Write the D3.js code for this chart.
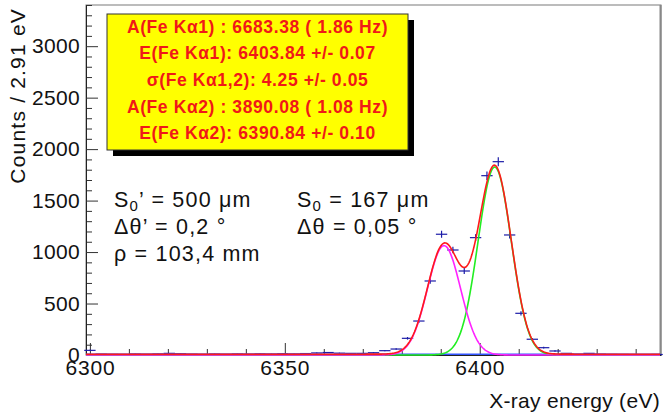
<!DOCTYPE html>
<html>
<head>
<meta charset="utf-8">
<script src="https://cdn.jsdelivr.net/npm/d3@7"></script>
<style>
  html, body { margin: 0; padding: 0; background: #fff; }
  svg { display: block; font-family: "Liberation Sans", Arial, Helvetica, sans-serif; }
</style>
</head>
<body>
<svg id="chart" width="663" height="417"></svg>
<script>
// Histogram binning (bin centres start at 6300 eV, width 2.91 eV)
const binStart = 6300;
const binWidth = 2.91;
// Counts per bin
const counts = [
  45, 8, 6, 5, 9, 7, 10, 16, 12, 8,
  6, 9, 7, 10, 8, 11, 9, 12, 10, 14,
  20, 24, 18, 16, 16, 22, 42, 58, 162, 330,
  719, 1173, 1020, 816, 1140, 1742, 1878, 1166, 405, 153,
  71, 39, 16, 8, 16, 8, 6, 5, 4, 3,
  5
];

// Fit results
const fitLabels = [
  "A(Fe K\u03b11) : 6683.38 ( 1.86 Hz)",
  "E(Fe K\u03b11): 6403.84 +/- 0.07",
  "\u03c3(Fe K\u03b11,2): 4.25 +/- 0.05",
  "A(Fe K\u03b12) : 3890.08 ( 1.08 Hz)",
  "E(Fe K\u03b12): 6390.84 +/- 0.10"
];
const amp1 = 6683.38, mean1 = 6403.84;
const amp2 = 3890.08, mean2 = 6390.84;
const sigma = 4.25;
const background = 8;

// Axis ticks
const yMajorTicks = [0, 500, 1000, 1500, 2000, 2500, 3000];
const xMajorTicks = [6300, 6350, 6400];

const svg = d3.select("#chart");
const x = d3.scaleLinear().domain([6299, 6446.5]).range([86, 661]);
const y = d3.scaleLinear().domain([0, 3400]).range([355, 5]);

const plot = { left: 86, right: 661, top: 5, bottom: 355 };

// Frame
svg.append("rect")
  .attr("x", plot.left).attr("y", plot.top)
  .attr("width", plot.right - plot.left).attr("height", plot.bottom - plot.top)
  .attr("fill", "#fff").attr("stroke", "#7a7a7a").attr("stroke-width", 1);
svg.append("line")
  .attr("x1", plot.right - 0.5).attr("x2", plot.right - 0.5)
  .attr("y1", plot.top).attr("y2", plot.bottom)
  .attr("stroke", "#888").attr("stroke-width", 2);

// Axes (ticks point into the frame)
const yMinor = d3.range(0, 3401, 100).filter(v => v % 500 !== 0);
const xMinor = d3.range(6300, 6447, 10).filter(v => v % 50 !== 0);

svg.append("g")
  .attr("transform", `translate(${plot.left},0)`)
  .call(d3.axisLeft(y).tickValues(yMinor).tickFormat("").tickSizeInner(-6).tickSizeOuter(0))
  .call(g => g.select(".domain").remove())
  .call(g => g.selectAll("line").attr("stroke", "#333"));

const yAxis = svg.append("g")
  .attr("transform", `translate(${plot.left},0)`)
  .call(d3.axisLeft(y).tickValues(yMajorTicks).tickFormat(d3.format("d"))
    .tickSizeInner(-12).tickSizeOuter(0).tickPadding(6));
yAxis.select(".domain").attr("stroke", "#222");
yAxis.selectAll("line").attr("stroke", "#333");
yAxis.selectAll("text").attr("font-size", 21).attr("fill", "#111")
  .attr("letter-spacing", 0.3)
  .attr("font-family", "Liberation Sans, Arial, sans-serif");

svg.append("g")
  .attr("transform", `translate(0,${plot.bottom})`)
  .call(d3.axisBottom(x).tickValues(xMinor).tickFormat("").tickSizeInner(-6).tickSizeOuter(0))
  .call(g => g.select(".domain").remove())
  .call(g => g.selectAll("line").attr("stroke", "#333"));

const xAxis = svg.append("g")
  .attr("transform", `translate(0,${plot.bottom})`)
  .call(d3.axisBottom(x).tickValues(xMajorTicks).tickFormat(d3.format("d"))
    .tickSizeInner(-12).tickSizeOuter(0).tickPadding(5));
xAxis.select(".domain").attr("stroke", "#222");
xAxis.selectAll("line").attr("stroke", "#333");
xAxis.selectAll("text").attr("font-size", 21).attr("fill", "#111")
  .attr("letter-spacing", 0.8)
  .attr("font-family", "Liberation Sans, Arial, sans-serif");

// Axis titles
svg.append("text")
  .attr("transform", "translate(25,8) rotate(-90)")
  .attr("text-anchor", "end")
  .attr("font-size", 21).attr("letter-spacing", 1.2).attr("fill", "#111")
  .text("Counts / 2.91 eV");
svg.append("text")
  .attr("x", 660).attr("y", 408)
  .attr("text-anchor", "end")
  .attr("font-size", 21).attr("letter-spacing", 0.3).attr("fill", "#111")
  .text("X-ray energy (eV)");

// Data points with error bars
const bins = counts.map((c, i) => ({ e: binStart + binWidth * i, c }));
const pts = svg.append("g").attr("stroke", "#1c1ca8").attr("stroke-width", 1.2);
bins.filter(d => d.c > 0).forEach(d => {
  const err = Math.sqrt(d.c);
  pts.append("line")
    .attr("x1", x(d.e - binWidth / 2)).attr("x2", x(d.e + binWidth / 2))
    .attr("y1", y(d.c)).attr("y2", y(d.c));
  pts.append("line")
    .attr("x1", x(d.e)).attr("x2", x(d.e))
    .attr("y1", y(Math.max(0, d.c - err))).attr("y2", y(d.c + err));
});

// Fit model: two Gaussian lines plus flat background
const norm = binWidth / (sigma * Math.sqrt(2 * Math.PI));
const gauss = (e, a, m) => a * norm * Math.exp(-((e - m) ** 2) / (2 * sigma * sigma));
const grid = d3.range(6299, 6446.5, 0.25);
const line = d3.line().x(d => x(d[0])).y(d => y(d[1]));

const curves = svg.append("g").attr("fill", "none").attr("stroke-width", 1.6);
curves.append("path")
  .datum(grid.map(e => [e, background]))
  .attr("stroke", "#3355ff").attr("d", line);
curves.append("path")
  .datum(grid.map(e => [e, gauss(e, amp1, mean1)]))
  .attr("stroke", "#22ee22").attr("d", line);
curves.append("path")
  .datum(grid.map(e => [e, gauss(e, amp2, mean2)]))
  .attr("stroke", "#ff22ff").attr("d", line);
curves.append("path")
  .datum(grid.map(e => [e, gauss(e, amp1, mean1) + gauss(e, amp2, mean2) + background]))
  .attr("stroke", "#ff1a1a").attr("d", line);

// Fit results box
const box = { x: 107, y: 14, w: 301, h: 136 };
svg.append("rect")
  .attr("x", box.x + 6).attr("y", box.y + 6)
  .attr("width", box.w).attr("height", box.h)
  .attr("fill", "#000");
svg.append("rect")
  .attr("x", box.x).attr("y", box.y)
  .attr("width", box.w).attr("height", box.h)
  .attr("fill", "#ffff00").attr("stroke", "#333").attr("stroke-width", 1);
svg.append("g")
  .selectAll("text")
  .data(fitLabels)
  .join("text")
  .attr("x", box.x + box.w / 2)
  .attr("y", (d, i) => 32.8 + i * 26.6)
  .attr("text-anchor", "middle")
  .attr("font-size", 17.5).attr("font-weight", "bold")
  .attr("letter-spacing", 0.6)
  .attr("fill", "#f01818")
  .text(d => d);

// Spectrometer settings
function addSetting(xPos, yPos, parts) {
  const t = svg.append("text")
    .attr("x", xPos).attr("y", yPos)
    .attr("font-size", 21.5).attr("letter-spacing", 1.2).attr("fill", "#111");
  parts.forEach(p => {
    const s = t.append("tspan").text(p.text);
    if (p.sub) s.attr("font-size", 15).attr("dy", 4);
    if (p.up) s.attr("dy", -4);
  });
}
addSetting(114, 207, [{ text: "S" }, { text: "0", sub: true }, { text: "\u2019 = 500 \u03bcm", up: true }]);
addSetting(114, 234, [{ text: "\u0394\u03b8\u2019 = 0,2 \u00b0" }]);
addSetting(114, 261, [{ text: "\u03c1 = 103,4 mm" }]);
addSetting(297, 207, [{ text: "S" }, { text: "0", sub: true }, { text: " = 167 \u03bcm", up: true }]);
addSetting(297, 234, [{ text: "\u0394\u03b8 = 0,05 \u00b0" }]);
</script>
</body>
</html>
